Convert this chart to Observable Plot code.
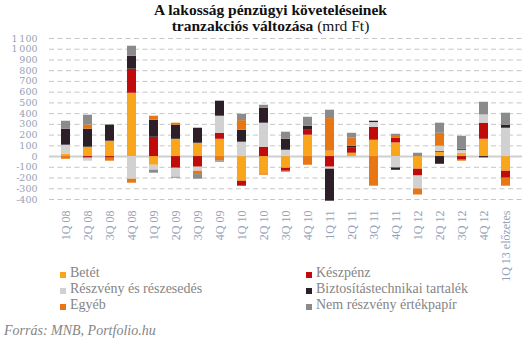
<!DOCTYPE html>
<html>
<head>
<meta charset="utf-8">
<script src="https://cdn.jsdelivr.net/npm/d3@7"></script>
<script src="https://cdn.jsdelivr.net/npm/@observablehq/plot@0.6"></script>
<style>
  html, body { margin: 0; padding: 0; background: #fff; }
  body { width: 531px; height: 342px; position: relative; overflow: hidden; font-family: "Liberation Serif", serif; }
  #title { position: absolute; top: 2px; left: 10px; width: 521px; text-align: center; font-size: 15.5px; line-height: 16px; color: #111; }
  #title b { font-weight: bold; }
  #chart { position: absolute; top: 36px; left: 0; }
  #legend { position: absolute; top: 265px; left: 60px; display: grid; grid-template-columns: 246px 220px; font-size: 14px; line-height: 16px; color: #858585; }
  #legend .item { display: flex; align-items: center; white-space: nowrap; }
  #legend .sw { width: 6px; height: 6px; margin-right: 4px; margin-top: 3px; flex: none; }
  #source { position: absolute; top: 323px; left: 4px; font-style: italic; font-size: 14px; color: #858585; }
</style>
</head>
<body>
<div id="title"><b>A lakosság pénzügyi követeléseinek</b><br><b>tranzakciós változása</b> (mrd Ft)</div>
<div id="chart"></div>
<div id="legend"></div>
<div id="source">Forrás: MNB, Portfolio.hu</div>
<script>
const quarters = ["1Q 08","2Q 08","3Q 08","4Q 08","1Q 09","2Q 09","3Q 09","4Q 09","1Q 10","2Q 10","3Q 10","4Q 10","1Q 11","2Q 11","3Q 11","4Q 11","1Q 12","2Q 12","3Q 12","4Q 12","1Q 13 előzetes"];
const seriesNames = ["Betét","Készpénz","Részvény és részesedés","Biztosítástechnikai tartalék","Egyéb","Nem részvény értékpapír"];
const colors = ["#f9a61d","#c10b0b","#d1d1d1","#2d1f27","#e87612","#8b8b8b"];

const betet      = [22, 87, 143, 590, -81, 161, 124, 161, -230, -161, -109, 199, 50, 31, 152, 127, -118, 40, 31, 161, -137];
const keszpenz   = [0, -15, -15, 224, 180, -109, -99, 56, -46, 87, -28, 46, -99, 47, 121, 46, -63, 9, -34, 150, -65];
const reszveny   = [84, -28, 0, -211, -46, -84, -38, 159, 134, 224, 59, 0, -19, -12, 44, -106, -121, 47, 28, 77, 264];
const biztositas = [149, 168, 149, 121, 159, 131, 140, 140, 111, 139, 102, 38, -298, 18, 12, -22, 0, -72, 9, -12, 28];
const egyeb      = [-25, 40, -28, -37, 37, 19, -31, -40, 90, -13, -9, -81, 304, 75, -276, 23, -56, 121, -9, 0, -74];
const nemReszv   = [74, 90, 6, 93, -28, -9, -43, -13, 59, 28, 66, 83, 78, 46, 0, 12, 31, 94, 121, 118, 112];

const yTicks = [-400,-300,-200,-100,0,100,200,300,400,500,600,700,800,900,1000,1100];

const seriesValues = [betet, keszpenz, reszveny, biztositas, egyeb, nemReszv];
const rows = [];
quarters.forEach((q, i) => {
  seriesNames.forEach((s, j) => {
    const v = seriesValues[j][i];
    if (v !== 0) rows.push({q, series: s, value: v});
  });
});

const fmt = d => {
  const s = String(Math.abs(d));
  const t = s.length > 3 ? s.slice(0, s.length - 3) + "\u2009" + s.slice(-3) : s;
  return (d < 0 ? "-" : "") + t;
};

const chart = Plot.plot({
  width: 531,
  height: 270,
  marginTop: 2,
  marginBottom: 107,
  marginLeft: 49,
  marginRight: 9,
  style: {fontFamily: "'Liberation Serif', serif", fontSize: "12px", color: "#98a0b5", background: "transparent", overflow: "visible"},
  x: {domain: quarters, paddingInner: 0.61, paddingOuter: 0.34, label: null},
  y: {domain: [-400, 1100], label: null},
  color: {domain: seriesNames, range: colors},
  marks: [
    Plot.gridY(yTicks.filter(d => d !== 0), {stroke: "#c6c6c6", strokeOpacity: 1, strokeDasharray: "5,3.5"}),
    Plot.ruleY([0], {stroke: "#cfcfcf", strokeWidth: 2}),
    Plot.barY(rows, {x: "q", y: "value", fill: "series"}),
    Plot.axisY(yTicks, {tickSize: 0, tickPadding: 12, tickFormat: fmt, label: null, fontFamily: "'DejaVu Serif', serif", fontSize: 9.5}),
    Plot.axisX({tickRotate: -90, tickSize: 0, tickPadding: 11, label: null, fontSize: 12})
  ]
});
document.getElementById("chart").appendChild(chart);

const legend = document.getElementById("legend");
seriesNames.forEach((s, j) => {
  const item = document.createElement("div");
  item.className = "item";
  const sw = document.createElement("span");
  sw.className = "sw";
  sw.style.background = colors[j];
  const label = document.createElement("span");
  label.textContent = s;
  item.appendChild(sw);
  item.appendChild(label);
  legend.appendChild(item);
});
</script>
</body>
</html>
